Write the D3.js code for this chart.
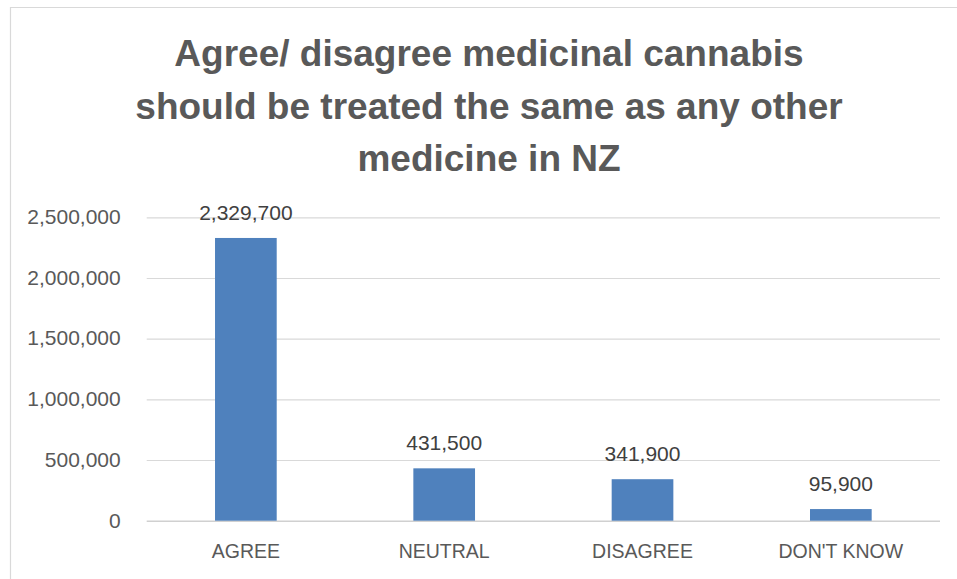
<!DOCTYPE html>
<html>
<head>
<meta charset="utf-8">
<script src="https://cdn.jsdelivr.net/npm/d3@7"></script>
<style>
  html, body { margin: 0; padding: 0; background: #ffffff; }
  svg { display: block; font-family: "Liberation Sans", Arial, sans-serif; }
</style>
</head>
<body>
<svg id="chart" width="957" height="579"></svg>
<script>
// Survey responses: population counts per answer
const categories = ["AGREE", "NEUTRAL", "DISAGREE", "DON'T KNOW"];
const values = [2329700, 431500, 341900, 95900];
const yTicks = [0, 500000, 1000000, 1500000, 2000000, 2500000];
const titleLines = [
  "Agree/ disagree medicinal cannabis",
  "should be treated the same as any other",
  "medicine in NZ"
];

const W = 957, H = 579;
const plot = { left: 146.7, right: 940, top: 217.3, bottom: 520.7 };

const svg = d3.select("#chart");

// chart frame (only the top and left edges fall inside the view)
svg.append("line")
  .attr("x1", 10).attr("x2", W).attr("y1", 7.5).attr("y2", 7.5)
  .attr("stroke", "#d9d9d9").attr("stroke-width", 1.2);
svg.append("line")
  .attr("x1", 10.5).attr("x2", 10.5).attr("y1", 7).attr("y2", H)
  .attr("stroke", "#d9d9d9").attr("stroke-width", 1.2);

// title
svg.append("g").selectAll("text")
  .data(titleLines)
  .join("text")
  .attr("x", 489)
  .attr("y", (d, i) => 66 + i * 52.5)
  .attr("text-anchor", "middle")
  .attr("font-size", "37px")
  .attr("font-weight", "bold")
  .attr("fill", "#595959")
  .text(d => d);

// scales
const x = d3.scaleBand()
  .domain(categories)
  .range([plot.left, plot.right])
  .paddingInner(0.689)
  .paddingOuter(0.3445);

const y = d3.scaleLinear()
  .domain([0, 2500000])
  .range([plot.bottom, plot.top]);

// y axis with gridlines
const yAxis = d3.axisLeft(y)
  .tickValues(yTicks)
  .tickFormat(d3.format(","))
  .tickSize(-(plot.right - plot.left))
  .tickPadding(26);

const gy = svg.append("g")
  .attr("transform", `translate(${plot.left},0)`)
  .call(yAxis);
gy.select(".domain").remove();
gy.selectAll(".tick line")
  .attr("stroke", d => d === 0 ? "#d0d0d0" : "#d9d9d9")
  .attr("stroke-width", d => d === 0 ? 1.6 : 1.2);
gy.selectAll(".tick text")
  .attr("font-family", "'Liberation Sans', Arial, sans-serif")
  .attr("font-size", "21px")
  .attr("fill", "#595959")
  .attr("dy", "0.3em");

// bars
svg.append("g").selectAll("rect")
  .data(values)
  .join("rect")
  .attr("x", (d, i) => x(categories[i]))
  .attr("y", d => y(d))
  .attr("width", x.bandwidth())
  .attr("height", d => y(0) - y(d))
  .attr("fill", "#4f81bd");

// value labels
svg.append("g").selectAll("text")
  .data(values)
  .join("text")
  .attr("x", (d, i) => x(categories[i]) + x.bandwidth() / 2)
  .attr("y", d => y(d) - 18)
  .attr("text-anchor", "middle")
  .attr("font-size", "21px")
  .attr("fill", "#404040")
  .text(d => d3.format(",")(d));

// category labels
svg.append("g").selectAll("text")
  .data(categories)
  .join("text")
  .attr("x", d => x(d) + x.bandwidth() / 2)
  .attr("y", 558)
  .attr("text-anchor", "middle")
  .attr("font-size", "19.5px")
  .attr("fill", "#595959")
  .text(d => d);
</script>
</body>
</html>
